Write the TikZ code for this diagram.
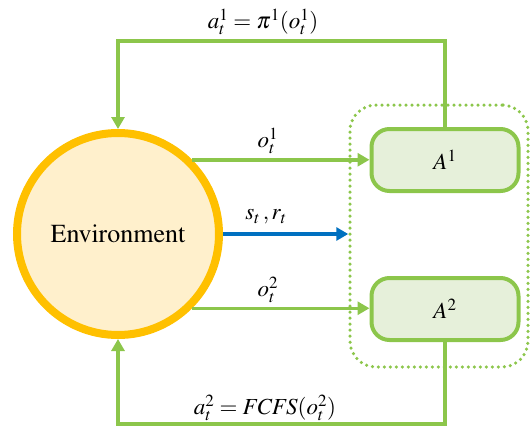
\documentclass[tikz,border=0pt]{standalone}
\usepackage{mathptmx}
\usetikzlibrary{arrows.meta}
\newcommand{\timesenv}{\fontencoding{T1}\fontfamily{ptm}\selectfont}
\definecolor{lg}{RGB}{140,198,75}
\definecolor{lgfill}{RGB}{230,240,218}
\definecolor{envstroke}{RGB}{255,192,0}
\definecolor{envfill}{RGB}{255,240,204}
\definecolor{blu}{RGB}{0,112,192}
\tikzset{
  envc/.style={circle,draw=envstroke,fill=envfill,line width=8pt,minimum size=202pt,inner sep=0pt,font=\timesenv\fontsize{26}{30}\selectfont},
  agent/.style={rectangle,rounded corners=18pt,draw=lg,fill=lgfill,line width=4pt,minimum width=147pt,minimum height=62pt,font=\fontsize{23}{27}\selectfont},
  dotbox/.style={rectangle,rounded corners=26pt,draw=lg,line width=3.5pt,dash pattern=on 0pt off 6pt,line cap=round,minimum width=178pt,minimum height=262pt,inner sep=0pt},
  gline/.style={draw=lg,line width=3.5pt,-{Triangle[length=12pt,width=13pt]}},
  bline/.style={draw=blu,line width=3.5pt,-{Triangle[length=12pt,width=13pt]}},
  lbl/.style={font=\fontsize{23}{27}\selectfont,inner sep=0pt}
}
\begin{document}
\begin{tikzpicture}[x=1pt,y=-1pt]
\useasboundingbox (0,0) rectangle (531,432);
\node[dotbox] (grp) at (439,236) {};
\node[envc] (env) at (118,234) {Environment};
\node[agent] (a1) at (445,160) {$A^1$};
\node[agent] (a2) at (445,309) {$A^2$};
\coordinate (tl) at (118,41);
\coordinate (tr) at (445,41);
\coordinate (bl) at (118,424);
\coordinate (br) at (445,424);
\draw[gline] (a1.north) -- (tr) -- (tl) -- (env.north);
\draw[gline] (a2.south) -- (br) -- (bl) -- (env.south);
\draw[gline] (env.45) -- (env.45 -| a1.west);
\draw[gline] (env.-45) -- (env.-45 -| a2.west);
\draw[bline] (env.east) -- (env.east -| grp.west);
\node[lbl] (ltop) at (263,22) {$a_t^1=\pi^1(o_t^1)$};
\node[lbl] (lbot) at (265,408) {$a_t^2=\mathit{FCFS}(o_t^2)$};
\node[lbl] (lo1) at (268,141) {$o_t^1$};
\node[lbl] (lsr) at (266,217) {$s_t\,,r_t$};
\node[lbl] (lo2) at (268,290) {$o_t^2$};
\end{tikzpicture}
\end{document}
